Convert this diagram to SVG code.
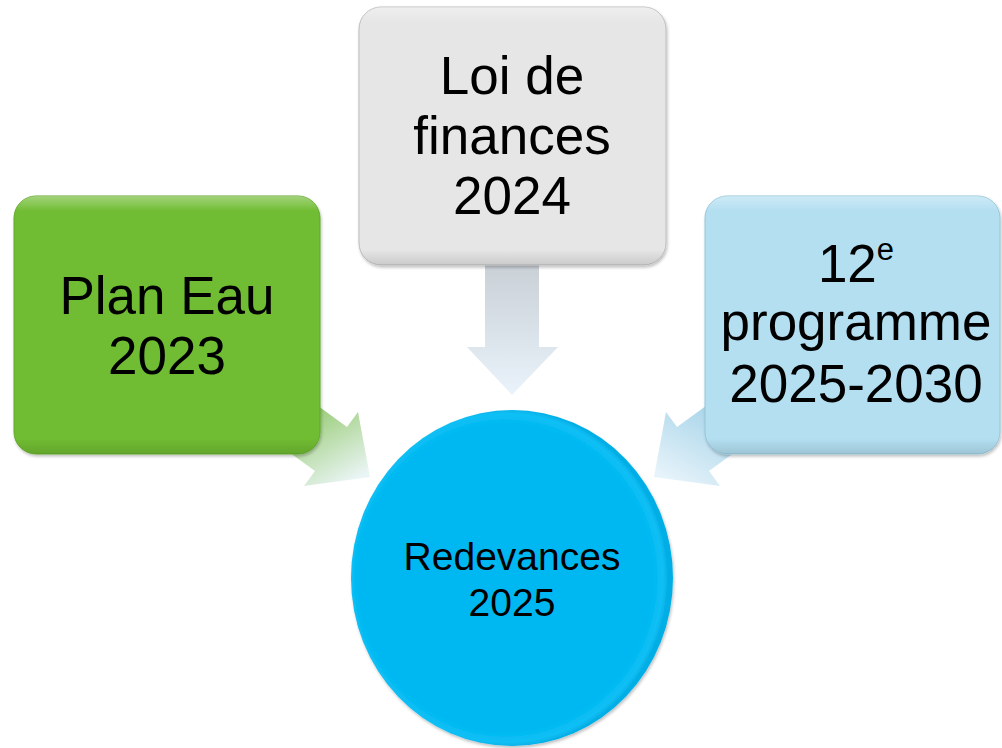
<svg xmlns="http://www.w3.org/2000/svg" width="1002" height="748" viewBox="0 0 1002 748">
<defs>
<style>
.t{font-family:"Liberation Sans",Arial,sans-serif;fill:#000;text-anchor:middle}
.big{font-size:53px}
.mid{font-size:39px}
</style>
<linearGradient id="gDown" gradientUnits="userSpaceOnUse" x1="0" y1="265" x2="0" y2="395">
<stop offset="0" stop-color="#c9d0d6"/><stop offset="1" stop-color="#eaf3fb"/>
</linearGradient>
<linearGradient id="gLeft" gradientUnits="userSpaceOnUse" x1="300" y1="405" x2="345" y2="485">
<stop offset="0" stop-color="#8fc767"/><stop offset="1" stop-color="#eaf5f5"/>
</linearGradient>
<linearGradient id="gRight" gradientUnits="userSpaceOnUse" x1="724" y1="405" x2="679" y2="485">
<stop offset="0" stop-color="#a3d2e8"/><stop offset="1" stop-color="#e6f3fa"/>
</linearGradient>
<linearGradient id="bevel" x1="0" y1="0" x2="0" y2="1">
<stop offset="0" stop-color="#fff" stop-opacity="0.35"/>
<stop offset="0.06" stop-color="#fff" stop-opacity="0"/>
<stop offset="0.94" stop-color="#000" stop-opacity="0"/>
<stop offset="1" stop-color="#000" stop-opacity="0.12"/>
</linearGradient>
<radialGradient id="circ" cx="0.48" cy="0.5" r="0.52">
<stop offset="0.88" stop-color="#00b8f1"/>
<stop offset="0.94" stop-color="#0ec0f5"/>
<stop offset="0.97" stop-color="#04aee6"/>
</radialGradient>
<filter id="sh" x="-10%" y="-10%" width="120%" height="120%">
<feDropShadow dx="1" dy="2" stdDeviation="1.5" flood-color="#000" flood-opacity="0.25"/>
</filter>
</defs>
<rect width="1002" height="748" fill="#fff"/>
<g id="connectors">
<polygon points="485,262 539,262 539,347 558,347 512,395 467,347 485,347" fill="url(#gDown)"/>
<polygon points="226,339 347,427 358,412 370,477 304,486 315,471 194,383" fill="url(#gLeft)"/>
<polygon points="798,339 677,427 666,412 654,477 720,486 709,471 830,383" fill="url(#gRight)"/>
</g>
<g id="node-plan-eau">
<rect x="14" y="196" width="306" height="258" rx="22" fill="#6fbc31" stroke="#64a92c" stroke-width="1" filter="url(#sh)"/>
<rect x="14" y="196" width="306" height="258" rx="22" fill="url(#bevel)"/>
<text class="t big" x="167" y="314">Plan Eau</text>
<text class="t big" x="167" y="374">2023</text>
</g>
<g id="node-loi">
<rect x="359" y="7" width="307" height="258" rx="22" fill="#e6e6e6" stroke="#bdbdbd" stroke-width="1" filter="url(#sh)"/>
<rect x="359" y="7" width="307" height="258" rx="22" fill="url(#bevel)"/>
<text class="t big" x="512" y="94">Loi de</text>
<text class="t big" x="512" y="154">finances</text>
<text class="t big" x="512" y="214">2024</text>
</g>
<g id="node-programme">
<rect x="705" y="196" width="295" height="258" rx="22" fill="#b3dff1" stroke="#97c6da" stroke-width="1" filter="url(#sh)"/>
<rect x="705" y="196" width="295" height="258" rx="22" fill="url(#bevel)"/>
<text class="t big" x="856" y="282">12<tspan font-size="31" dy="-22">e</tspan></text>
<text class="t big" x="856" y="340">programme</text>
<text class="t big" x="856" y="402">2025-2030</text>
</g>
<g id="node-redevances">
<ellipse cx="512" cy="578" rx="161" ry="168" fill="url(#circ)" filter="url(#sh)"/>
<text class="t mid" x="512" y="570">Redevances</text>
<text class="t mid" x="512" y="616">2025</text>
</g>
</svg>
